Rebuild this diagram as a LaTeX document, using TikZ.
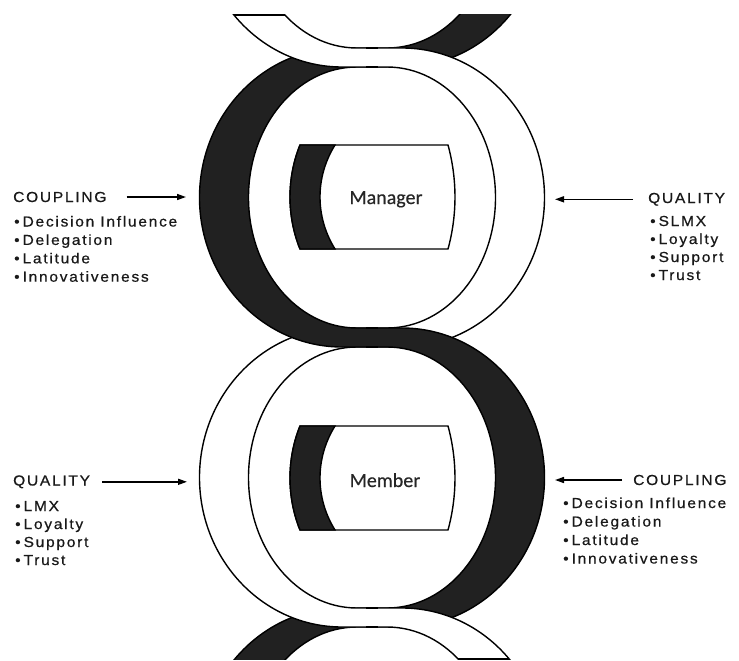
\documentclass[tikz,border=0pt]{standalone}
\usepackage{fontspec}
\setmainfont{Liberation Sans}
\newfontfamily\lblfont[FakeStretch=1.07,LetterSpace=12,FakeBold=0.6]{Liberation Sans}
\newfontfamily\boxfont[FakeBold=0.3]{Carlito}
\usetikzlibrary{arrows.meta}
\definecolor{ink}{gray}{0.13}
% rounded band shape: #1 centre y, #2 half flat length, #3 arc x radius, #4 y radius
\newcommand\rshape[4]{(372-#2,#1-#4) -- (372+#2,#1-#4)
 .. controls (372+#2+0.5523*#3,#1-#4) and (372+#2+#3,#1-0.5523*#4) .. (372+#2+#3,#1)
 .. controls (372+#2+#3,#1+0.5523*#4) and (372+#2+0.5523*#3,#1+#4) .. (372+#2,#1+#4)
 -- (372-#2,#1+#4)
 .. controls (372-#2-0.5523*#3,#1+#4) and (372-#2-#3,#1+0.5523*#4) .. (372-#2-#3,#1)
 .. controls (372-#2-#3,#1-0.5523*#4) and (372-#2-0.5523*#3,#1-#4) .. (372-#2,#1-#4) -- cycle}
\newcommand\outerS[1]{\rshape{#1}{30}{142.5}{149.5}}
\newcommand\innerS[1]{\rshape{#1}{15}{108.5}{130.5}}
% one half of a ring band: #1 centre y, #2 far x of the half, #3 colour
\newcommand\halfband[3]{%
 \begin{scope}
  \clip (372,#1-162) rectangle (#2,#1+162);
  \fill[#3,even odd rule] \outerS{#1} \innerS{#1};
  \draw[ringline] \outerS{#1};
  \draw[ringline] \innerS{#1};
 \end{scope}}
% crossing patch: #1 top y, #2 bottom y, #3 colour
\newcommand\crosspatch[3]{%
 \fill[#3] (366,#1) rectangle (378,#2);
 \draw[ringline] (366,#1) -- (378,#1);
 \draw[ringline] (366,#2) -- (378,#2);}
% cylinder box: #1 vertical shift
\newcommand\cylbox[1]{%
 \filldraw[ringline,fill=white] (300,145+#1) -- (448,145+#1)
  .. controls (457.3,179+#1) and (457.3,215+#1) .. (448,249+#1) -- (300,249+#1)
  .. controls (286.7,216+#1) and (286.7,178+#1) .. (300,145+#1) -- cycle;
 \filldraw[ringline,fill=ink] (300,145+#1) -- (335,145+#1)
  .. controls (315,177+#1) and (315,217+#1) .. (335,249+#1) -- (300,249+#1)
  .. controls (286.7,216+#1) and (286.7,178+#1) .. (300,145+#1) -- cycle;}
\tikzset{
 ringline/.style={line width=1.4pt,draw=black},
 hd/.style={font={\lblfont\fontsize{14.5}{17}\selectfont},inner sep=0pt,anchor=base west,text=black!90},
 boxlbl/.style={font={\boxfont\fontsize{20}{24}\selectfont},inner sep=0pt,anchor=base,text=black!85},
 arr/.style={line width=1.5pt,-{Triangle[length=9pt,width=6pt]}},
}
\begin{document}
\begin{tikzpicture}[x=1pt,y=-1pt]
\useasboundingbox (0,0) rectangle (739,661);
\fill[white] (0,0) rectangle (739,661);
% ---- helix ribbon ----
\begin{scope}
 \clip (0,15) rectangle (739,659);
 \halfband{-82.5}{572}{ink}
 \halfband{197.5}{572}{white}
 \halfband{477.5}{572}{ink}
 \halfband{757.5}{572}{white}
 \halfband{757.5}{172}{ink}
 \halfband{477.5}{172}{white}
 \halfband{197.5}{172}{ink}
 \halfband{-82.5}{172}{white}
 \crosspatch{48}{67}{white}
 \crosspatch{328}{347}{ink}
 \crosspatch{608}{627}{white}
\end{scope}
% cut ends of the white ribbon
\begin{scope}
 \clip \outerS{-82.5};
 \draw[ringline] (190,15) -- (285,15);
\end{scope}
\begin{scope}
 \clip \outerS{757.5};
 \draw[ringline] (458.2,659) -- (560,659);
\end{scope}
% ---- boxes ----
\cylbox{0}
\cylbox{281}
\node[boxlbl] (mgr) at (386,204) {Manager};
\node[boxlbl] (mem) at (385,487) {Member};
% ---- upper left: coupling ----
\node[hd] (c1) at (13,202) {COUPLING};
\foreach \t [count=\i] in {Decision Influence,Delegation,Latitude,Innovativeness}
 \node[hd] (c1i\i) at (14,208.1+18.4*\i) {\textbullet\hspace{3pt}\t};
\coordinate (p1) at (186,0);
\draw[arr] ([xshift=20pt]c1.east) -- (p1 |- c1.east);
% ---- upper right: quality ----
\node[hd] (q1) at (648,203) {QUALITY};
\foreach \t [count=\i] in {SLMX,Loyalty,Support,Trust}
 \node[hd] (q1i\i) at (650,208+18*\i) {\textbullet\hspace{3pt}\t};
\coordinate (p2) at (555,0);
\draw[arr] ([xshift=-15pt]q1.west) -- (p2 |- q1.west);
% ---- lower left: quality ----
\node[hd] (q2) at (13,485.5) {QUALITY};
\foreach \t [count=\i] in {LMX,Loyalty,Support,Trust}
 \node[hd] (q2i\i) at (15,493+18*\i) {\textbullet\hspace{3pt}\t};
\coordinate (p3) at (187,0);
\draw[arr] ([xshift=12pt]q2.east) -- (p3 |- q2.east);
% ---- lower right: coupling ----
\node[hd] (c2) at (633,485) {COUPLING};
\foreach \t [count=\i] in {Decision Influence,Delegation,Latitude,Innovativeness}
 \node[hd] (c2i\i) at (563,489.5+18.5*\i) {\textbullet\hspace{3pt}\t};
\coordinate (p4) at (555,0);
\draw[arr] ([xshift=-11pt]c2.west) -- (p4 |- c2.west);
\end{tikzpicture}
\end{document}
